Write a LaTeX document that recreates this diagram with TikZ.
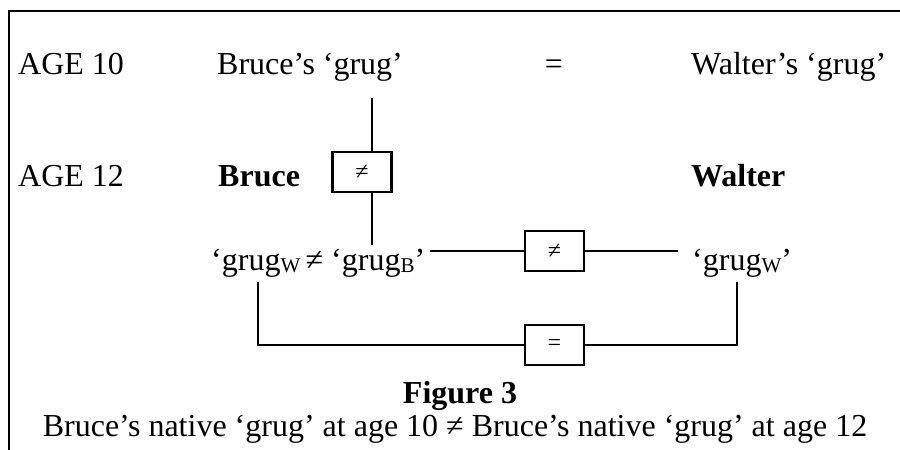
\documentclass[tikz,border=0pt]{standalone}
\usepackage{fontspec}
\setmainfont{Liberation Serif}
\newcommand\grugsub[1]{\raisebox{-2pt}{\fontsize{21}{21}\selectfont #1}}
\begin{document}
\begin{tikzpicture}[x=1pt,y=-1pt,
  txt/.style={font=\fontsize{32}{32}\selectfont, inner sep=0pt, anchor=base west},
  bx/.style={draw, line width=2.2pt, fill=white, minimum width=59pt, minimum height=40pt, inner sep=0pt, font=\fontsize{24}{24}\selectfont},
  ln/.style={line width=2.2pt}]
\useasboundingbox (0,0) rectangle (900,450);
% frame
\coordinate (ftl) at (9,11);
\coordinate (ftr) at (900,11);
\coordinate (fbl) at (9,450);
\draw[ln] (ftr) -- (ftl) -- (fbl);
% texts
\node[txt] (age10) at (18,74) {AGE 10};
\node[txt] (b10) at (217,74) {Bruce’s ‘grug’};
\node[txt, anchor=base] (eq) at (554,74) {=};
\node[txt] (w10) at (691,74) {Walter’s ‘grug’};
\node[txt] (age12) at (18,186) {AGE 12};
\node[txt] (bruce) at (218,186) {\textbf{Bruce}};
\node[txt] (walter) at (691,186) {\textbf{Walter}};
\node[txt] (gb) at (211,270) {‘grug\grugsub{W}\,≠ ‘grug\grugsub{B}’};
\node[txt] (gw) at (692,270) {‘grug\grugsub{W}’};
% boxes
\node[bx] (n1) at (362,172) {≠};
\node[bx] (n2) at (554.5,251) {≠};
\node[bx] (n3) at (554.5,345) {=};
% connectors
\coordinate (v1a) at (372,98);
\coordinate (v1b) at (372,245);
\draw[ln] (v1a) -- (n1.north -| v1a);
\draw[ln] (n1.south -| v1a) -- (v1b);
\coordinate (h1) at (430,251);
\coordinate (h2) at (678,251);
\draw[ln] (h1) -- (n2.west);
\draw[ln] (n2.east) -- (h2);
\coordinate (la) at (258,282);
\coordinate (lb) at (737,282);
\draw[ln] (la) |- (n3.west);
\draw[ln] (n3.east) -| (lb);
% caption
\node[txt, anchor=base] (fig) at (460,403) {\textbf{Figure 3}};
\node[txt, anchor=base] (cap) at (455,436) {Bruce’s native ‘grug’ at age 10 ≠ Bruce’s native ‘grug’ at age 12};
\end{tikzpicture}
\end{document}
